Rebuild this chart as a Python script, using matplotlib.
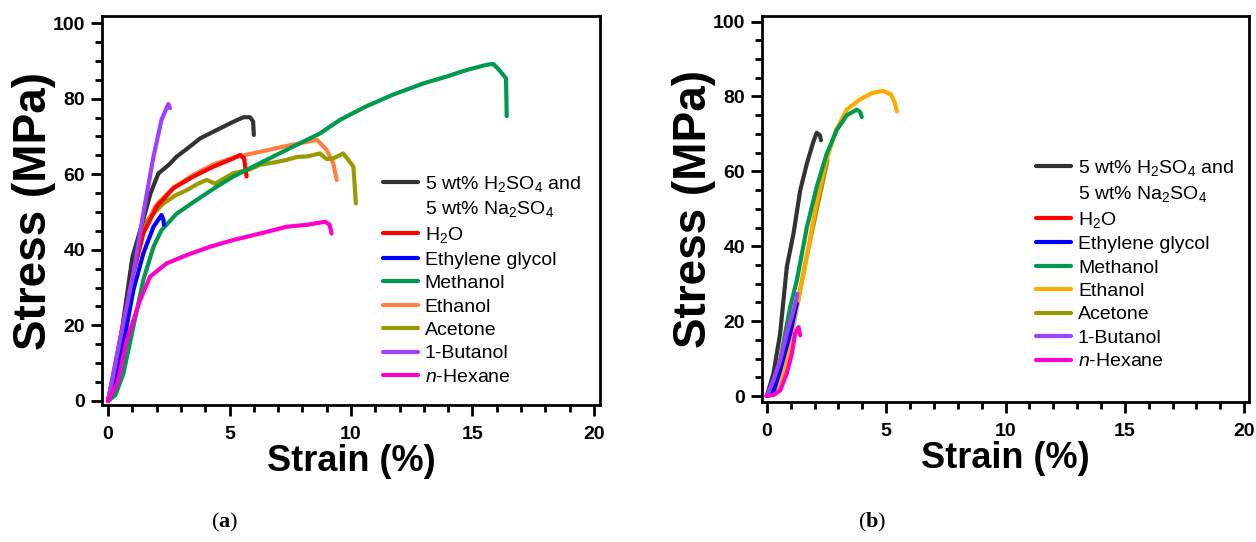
import matplotlib
matplotlib.use("Agg")
from matplotlib import pyplot as plt
from matplotlib.lines import Line2D
from matplotlib.ticker import MultipleLocator

plt.rcParams['font.family'] = ['Liberation Sans', 'DejaVu Sans']
plt.rcParams['mathtext.fontset'] = 'custom'
plt.rcParams['mathtext.rm'] = 'Liberation Sans'
plt.rcParams['mathtext.it'] = 'Liberation Sans:italic'
plt.rcParams['mathtext.bf'] = 'Liberation Serif:bold'

labels = ["5 wt% H$_2$SO$_4$ and", "H$_2$O", "Ethylene glycol", "Methanol",
          "Ethanol", "Acetone", "1-Butanol", "$n$-Hexane"]
second_line = "5 wt% Na$_2$SO$_4$"

# panel (a) stress-strain curves, strain in %, stress in MPa
a_acid_x = [0, 0.3, 0.6, 1.0, 1.45, 1.75, 2.07, 2.5, 2.83, 3.3, 3.79, 4.47, 5.16, 5.57, 5.84, 5.97, 6.0]
a_acid_y = [0, 8, 20, 38, 48, 55, 60.2, 62.5, 64.7, 67, 69.5, 71.7, 73.9, 75.1, 75.1, 74, 70.4]
a_water_x = [0, 0.49, 1.04, 1.45, 2.0, 2.69, 3.51, 4.33, 5.16, 5.43, 5.6, 5.7]
a_water_y = [0, 16.1, 33.7, 44.3, 51.4, 56.3, 59.4, 62.0, 64.2, 65.1, 64.2, 59.4]
a_eg_x = [0, 0.3, 0.6, 1.04, 1.45, 1.87, 2.2, 2.28, 2.3]
a_eg_y = [0, 4, 14, 29.3, 39, 46.1, 49.2, 47.9, 46.6]
a_meoh_x = [0, 0.3, 0.63, 1.04, 1.45, 1.87, 2.2, 2.83, 3.65, 4.47, 5.16, 5.84, 6.8, 7.9, 8.72,
            9.55, 10.6, 11.7, 13.0, 13.9, 14.76, 15.6, 15.86, 16.1, 16.38, 16.41]
a_meoh_y = [0, 1.5, 7.2, 19.6, 32, 40.8, 45.2, 49.6, 53.2, 56.7, 59.4, 61.6, 64.7, 68.2, 70.8,
            74.4, 77.9, 81.0, 84.1, 85.8, 87.6, 89.0, 89.2, 87.6, 85.4, 75.4]
a_etoh_x = [0, 0.5, 1.0, 1.5, 2.0, 2.7, 3.5, 4.3, 5.2, 6.3, 7.35, 8.2, 8.6, 9.0, 9.27, 9.41]
a_etoh_y = [0, 15, 34, 46, 52, 56.5, 59.8, 62.5, 64.5, 66, 67.5, 68.6, 69.1, 66.4, 62.9, 58.5]
a_acetone_x = [0, 0.5, 1.0, 1.5, 2.28, 2.8, 3.24, 3.7, 4.06, 4.4, 5.16, 5.8, 6.26, 6.9, 7.35,
               7.8, 8.18, 8.72, 9.0, 9.27, 9.68, 9.89, 10.1, 10.2]
a_acetone_y = [0, 15, 36, 47, 52.3, 54.5, 55.8, 57.5, 58.5, 57.5, 60.3, 61.2, 62.5, 63.2, 63.8,
               64.6, 64.7, 65.5, 64.0, 64.2, 65.5, 63.8, 62.0, 52.3]
a_buoh_x = [0, 0.49, 1.04, 1.45, 1.87, 2.2, 2.48, 2.55]
a_buoh_y = [0, 16.1, 33.7, 49.6, 64.7, 74.4, 78.6, 77.5]
a_hex_x = [0, 0.4, 0.77, 1.32, 1.73, 2.41, 3.24, 4.2, 5.16, 6.26, 7.35, 8.18, 8.72, 8.94, 9.12, 9.2]
a_hex_y = [0, 5, 16.1, 26.7, 32.9, 36.4, 38.6, 40.8, 42.6, 44.3, 46.1, 46.6, 47.2, 47.4, 46.6, 44.3]

# panel (b) stress-strain curves
b_acid_x = [0, 0.28, 0.56, 0.84, 1.12, 1.4, 1.68, 1.95, 2.09, 2.23, 2.27]
b_acid_y = [0, 6.0, 16.7, 34.5, 43.4, 54.9, 62.1, 67.9, 70.3, 69.6, 68.3]
b_water_x = [0, 0.4, 0.7, 0.9, 0.95]
b_water_y = [0, 4, 11, 18, 19.5]
b_eg_x = [0, 0.3, 0.56, 0.98, 1.19, 1.26]
b_eg_y = [0, 1.5, 6.9, 16.7, 22.9, 24.7]
b_meoh_x = [0, 0.3, 0.56, 0.98, 1.26, 1.68, 2.09, 2.51, 2.93, 3.35, 3.77, 3.91, 3.98]
b_meoh_y = [0, 2, 9.5, 23.8, 30.9, 45.1, 55.8, 64.7, 71.0, 75.0, 76.5, 75.9, 74.5]
b_etoh_x = [0, 0.4, 0.84, 1.2, 1.6, 2.05, 2.45, 2.9, 3.35, 3.9, 4.4, 4.85, 5.2, 5.36, 5.45]
b_etoh_y = [0, 2, 9.5, 22, 34.5, 50.5, 62, 71, 76.5, 79.2, 80.9, 81.5, 80.6, 78.3, 76]
b_acetone_x = [0, 0.4, 0.8, 1.15, 1.6, 2.1, 2.55]
b_acetone_y = [0, 2, 8, 20, 35, 50, 63]
b_buoh_x = [0, 0.28, 0.56, 0.84, 1.12, 1.26, 1.28]
b_buoh_y = [0, 4.2, 9.5, 16.7, 22.9, 26.4, 27.3]
b_hex_x = [0, 0.3, 0.56, 0.84, 1.05, 1.19, 1.33, 1.4]
b_hex_y = [0, 0.3, 1.5, 6.0, 11.3, 16.7, 18.4, 16.2]

colors_a = ['#333333', '#ff0000', '#0000ff', '#00994f', '#ff8040', '#999900', '#a040ff', '#ff00cc']
colors_b = ['#333333', '#ff0000', '#0000ff', '#00994f', '#ffaa00', '#999900', '#a040ff', '#ff00cc']
# drawing order, lower first
order_a = [4, 5, 0, 1, 3, 2, 6, 7]
order_b = [5, 4, 3, 0, 1, 2, 6, 7]

data_a = [(a_acid_x, a_acid_y), (a_water_x, a_water_y), (a_eg_x, a_eg_y), (a_meoh_x, a_meoh_y),
          (a_etoh_x, a_etoh_y), (a_acetone_x, a_acetone_y), (a_buoh_x, a_buoh_y), (a_hex_x, a_hex_y)]
data_b = [(b_acid_x, b_acid_y), (b_water_x, b_water_y), (b_eg_x, b_eg_y), (b_meoh_x, b_meoh_y),
          (b_etoh_x, b_etoh_y), (b_acetone_x, b_acetone_y), (b_buoh_x, b_buoh_y), (b_hex_x, b_hex_y)]

W, H = 1256, 542
fig = plt.figure(figsize=(W / 100, H / 100), dpi=100)


def px_axes(left, top, right, bottom):
    return fig.add_axes([left / W, 1 - bottom / H, (right - left) / W, (bottom - top) / H])


def draw_panel(ax, data, colors, order, xlim, ylim, leg_anchor):
    lines = [None] * len(data)
    for z, i in enumerate(order):
        x, y = data[i]
        lines[i], = ax.plot(x, y, color=colors[i], lw=3.0, zorder=2 + z,
                            solid_capstyle='round', solid_joinstyle='round')
    ax.set_xlim(*xlim)
    ax.set_ylim(*ylim)
    ax.xaxis.set_major_locator(MultipleLocator(5))
    ax.xaxis.set_minor_locator(MultipleLocator(1))
    ax.yaxis.set_major_locator(MultipleLocator(20))
    ax.yaxis.set_minor_locator(MultipleLocator(5))
    for s in ax.spines.values():
        s.set_linewidth(2.0)
    ax.tick_params(which='major', direction='out', length=8, width=2.0, labelsize=14, pad=7)
    ax.tick_params(which='minor', direction='out', length=5, width=2.0)
    ax.tick_params(axis='y', which='major', pad=4)
    for t in ax.get_xticklabels() + ax.get_yticklabels():
        t.set_fontweight('bold')
    ax.set_xlabel("Strain (%)", fontsize=26, fontweight='bold', labelpad=1)
    ax.set_ylabel("Stress (MPa)", fontsize=33, fontweight='bold', labelpad=-2)

    blank = Line2D([], [], color='none')
    handles = [lines[0], blank] + lines[1:]
    names = [labels[0], second_line] + labels[1:]
    ax.legend(handles, names, loc='upper left', bbox_to_anchor=leg_anchor, frameon=False,
              fontsize=14, handlelength=1.8, handletextpad=0.35, labelspacing=0.3,
              borderpad=0, borderaxespad=0)


ax_a = px_axes(102, 16, 600, 405)
draw_panel(ax_a, data_a, colors_a, order_a, (-0.25, 20.25), (-1.1, 101.9), (0.564, 0.595))
ax_b = px_axes(762, 16, 1249, 402)
draw_panel(ax_b, data_b, colors_b, order_b, (-0.2, 20.2), (-1.6, 101.5), (0.563, 0.632))

fig.text(225 / W, 1 - 522 / H, r"($\mathbf{a}$)", family='Liberation Serif', fontsize=16,
         ha='center', va='center')
fig.text(872 / W, 1 - 522 / H, r"($\mathbf{b}$)", family='Liberation Serif', fontsize=16,
         ha='center', va='center')

fig.savefig("out.png", dpi=100)
